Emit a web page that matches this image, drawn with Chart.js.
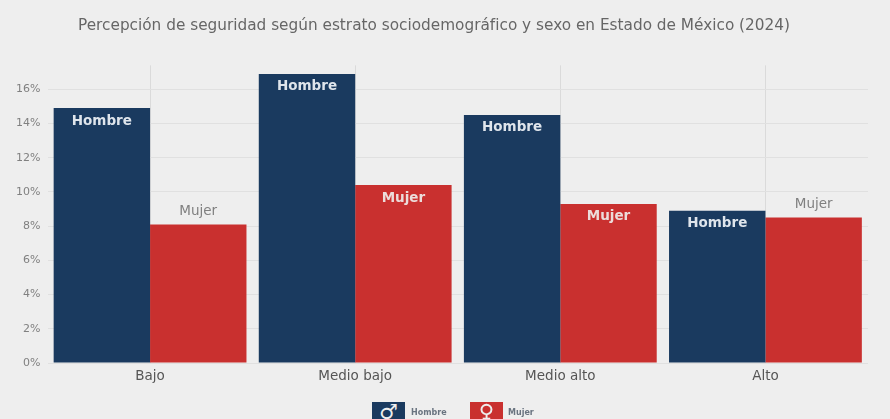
<!DOCTYPE html>
<html lang="es">
<head>
<meta charset="utf-8">
<title>Percepción de seguridad</title>
<script src="https://cdn.jsdelivr.net/npm/chart.js@4/dist/chart.umd.min.js"></script>
<style>
  html, body { margin: 0; padding: 0; background: #eeeeee; overflow: hidden; }
  #wrap { position: relative; width: 890px; height: 419px; overflow: hidden; }
  .key { position: absolute; top: 402px; width: 33px; height: 22px; color: #eeeeee; text-align: center;
         font: bold 21px/20px "DejaVu Sans"; overflow: hidden; }
  .keyText { position: absolute; top: 408px; font: bold 8px "DejaVu Sans"; color: #6a7480; }
</style>
</head>
<body>
<div id="wrap">
  <canvas id="chart" width="890" height="419"></canvas>
  <div class="key" style="left:372px;background:#1a3a5f">♂</div>
  <div class="keyText" style="left:411px">Hombre</div>
  <div class="key" style="left:470px;background:#c9302f">♀</div>
  <div class="keyText" style="left:508px">Mujer</div>
</div>
<script>
// Datos
const categories = ['Bajo', 'Medio bajo', 'Medio alto', 'Alto'];
const hombre = [14.9, 16.9, 14.5, 8.9];
const mujer = [8.1, 10.4, 9.3, 8.5];
const mujerOutside = [true, false, false, true];
const titleText = 'Percepción de seguridad según estrato sociodemográfico y sexo en Estado de México (2024)';

// Etiquetas sobre las barras
const barLabels = {
    id: 'barLabels',
    afterDatasetsDraw(chart) {
        const ctx = chart.ctx;
        ctx.save();
        ctx.textAlign = 'center';
        ctx.textBaseline = 'middle';
        chart.getDatasetMeta(0).data.forEach((bar) => {
            ctx.font = 'bold 13.5px "DejaVu Sans"';
            ctx.fillStyle = '#dfe5ec';
            ctx.fillText('Hombre', bar.x, bar.y + 13);
        });
        chart.getDatasetMeta(1).data.forEach((bar, i) => {
            if (mujerOutside[i]) {
                ctx.font = '13.5px "DejaVu Sans"';
                ctx.fillStyle = '#808080';
                ctx.fillText('Mujer', bar.x, bar.y - 13);
            } else {
                ctx.font = 'bold 13.5px "DejaVu Sans"';
                ctx.fillStyle = '#ecdcda';
                ctx.fillText('Mujer', bar.x, bar.y + 13);
            }
        });
        ctx.restore();
    }
};

new Chart(document.getElementById('chart'), {
    type: 'bar',
    data: {
        labels: categories,
        datasets: [
            { label: 'Hombre', data: hombre, backgroundColor: '#1a3a5f' },
            { label: 'Mujer', data: mujer, backgroundColor: '#c9302f' }
        ]
    },
    options: {
        responsive: false,
        animation: false,
        barPercentage: 1,
        categoryPercentage: 0.94,
        layout: { padding: { left: 0, right: 22, top: 0, bottom: 0 } },
        plugins: {
            legend: { display: false },
            tooltip: { enabled: false },
            title: {
                display: true,
                text: titleText,
                color: '#666666',
                font: { size: 15.3, weight: 'normal', family: '"DejaVu Sans"' },
                padding: { top: 17, bottom: 30 }
            }
        },
        scales: {
            x: {
                grid: { offset: false, color: '#dadada', drawTicks: false },
                border: { display: false },
                ticks: { color: '#555555', font: { size: 13.5, family: '"DejaVu Sans"' }, padding: 5, maxRotation: 0 },
                afterFit(scale) { scale.height = 56; }
            },
            y: {
                min: 0,
                max: 17.4,
                grid: { color: '#e0e0e0', drawTicks: false },
                border: { display: false },
                ticks: {
                    stepSize: 2,
                    includeBounds: false,
                    color: '#808080',
                    padding: 7,
                    font: { size: 11, family: '"DejaVu Sans"' },
                    callback: (v) => v + '%'
                },
                afterFit(scale) { scale.width = 47.5; }
            }
        }
    },
    plugins: [barLabels]
});
</script>
</body>
</html>
